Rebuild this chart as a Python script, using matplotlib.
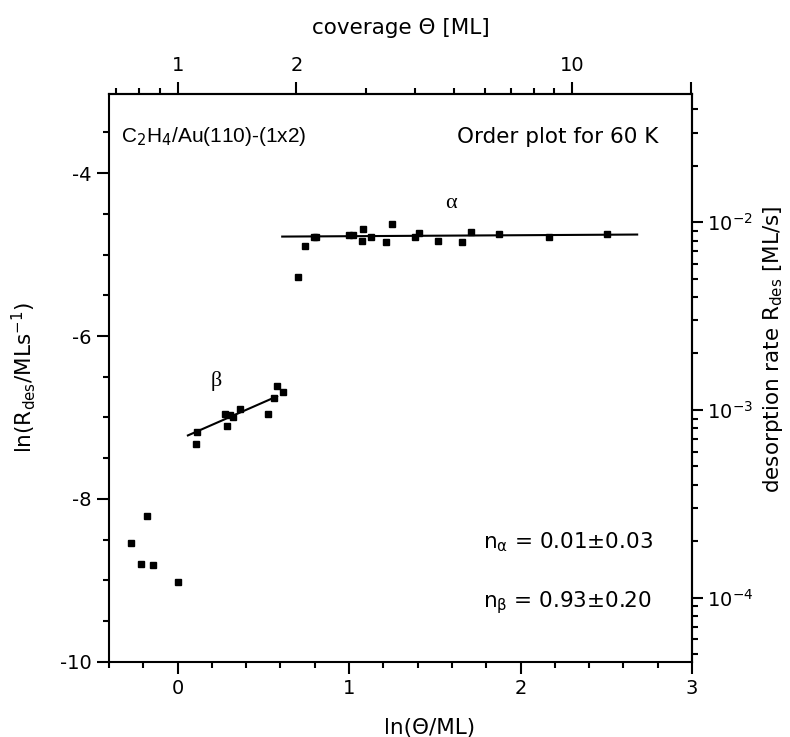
import numpy as np
import matplotlib
matplotlib.use("Agg")
import matplotlib.pyplot as plt
from matplotlib.ticker import FixedLocator, MultipleLocator, NullFormatter

plt.rcParams['font.family'] = ['DejaVu Sans']
plt.rcParams['mathtext.fontset'] = 'custom'
plt.rcParams['mathtext.rm'] = 'DejaVu Sans'
plt.rcParams['mathtext.it'] = 'DejaVu Sans'
plt.rcParams['mathtext.bf'] = 'DejaVu Sans'
plt.rcParams['axes.unicode_minus'] = False

# alpha state data: ln(theta), ln(R)
alpha_x = [0.704, 0.742, 0.795, 0.805, 1.001, 1.022, 1.083, 1.075, 1.127, 1.216,
           1.249, 1.382, 1.405, 1.516, 1.658, 1.712, 1.872, 2.165, 2.503]
alpha_y = [-5.27, -4.89, -4.79, -4.79, -4.76, -4.76, -4.69, -4.83, -4.78, -4.85,
           -4.63, -4.79, -4.74, -4.83, -4.85, -4.72, -4.75, -4.78, -4.75]
# beta state data
beta_x = [0.111, 0.105, 0.276, 0.286, 0.305, 0.322, 0.364, 0.527, 0.564, 0.581, 0.614]
beta_y = [-7.18, -7.33, -6.96, -7.10, -6.97, -6.99, -6.89, -6.96, -6.76, -6.61, -6.69]
# low coverage data
low_x = [-0.179, -0.270, -0.212, -0.146, 0.004]
low_y = [-8.21, -8.54, -8.80, -8.81, -9.02]

# fit lines
alpha_fit_x = [0.61, 2.68]
alpha_fit_y = [-4.78, -4.755]
beta_fit_x = [0.06, 0.58]
beta_fit_y = [-7.22, -6.74]

top_major = [1, 2, 10, 20]
top_labels = ['1', '2', '10', '']
top_minor = [0.7, 0.8, 0.9, 3, 4, 5, 6, 7, 8, 9]
right_major = [1e-2, 1e-3, 1e-4]
right_labels = ['$10^{-2}$', '$10^{-3}$', '$10^{-4}$']
right_minor = [m * 10.0**e for e in (-5, -4, -3, -2) for m in range(2, 10)]

fig = plt.figure(figsize=(7.90, 7.37), dpi=100)
ax = fig.add_axes([0.138, 0.1018, 0.738, 0.7707])

ax.plot(alpha_x, alpha_y, 's', color='black', ms=5)
ax.plot(beta_x, beta_y, 's', color='black', ms=5)
ax.plot(low_x, low_y, 's', color='black', ms=5)
ax.plot(alpha_fit_x, alpha_fit_y, '-', color='black', lw=1.5)
ax.plot(beta_fit_x, beta_fit_y, '-', color='black', lw=1.5)

ax.set_xlim(-0.4, 3.0)
ax.set_ylim(-10, -3.03)
ax.xaxis.set_major_locator(MultipleLocator(1))
ax.xaxis.set_minor_locator(MultipleLocator(0.2))
ax.yaxis.set_major_locator(MultipleLocator(2))
ax.yaxis.set_minor_locator(MultipleLocator(0.5))

TS = 14
for s in ax.spines.values():
    s.set_linewidth(1.5)
ax.tick_params(which='major', direction='out', length=8.5, width=1.5, labelsize=TS, pad=4)
ax.tick_params(which='minor', direction='out', length=4.5, width=1.5)

ax.set_xlabel('ln(\u0398/ML)', fontsize=15.5)
ax.xaxis.set_label_coords(0.55, -0.098)
ax.set_ylabel('ln(R$_{des}$/MLs$^{-1}$)', fontsize=15.5)
ax.yaxis.set_label_coords(-0.122, 0.5)

sec_x = ax.secondary_xaxis('top', functions=(np.exp, np.log))
sec_x.xaxis.set_major_locator(FixedLocator(top_major))
sec_x.set_xticklabels(top_labels)
sec_x.xaxis.set_minor_locator(FixedLocator(top_minor))
sec_x.xaxis.set_minor_formatter(NullFormatter())
sec_x.tick_params(which='major', direction='out', length=8.5, width=1.5, labelsize=TS, pad=5)
sec_x.tick_params(which='minor', direction='out', length=4.5, width=1.5)
sec_x.spines['top'].set_linewidth(1.5)
sec_x.set_xlabel('coverage \u0398 [ML]', fontsize=15.5, labelpad=16)

sec_y = ax.secondary_yaxis('right', functions=(np.exp, np.log))
sec_y.yaxis.set_major_locator(FixedLocator(right_major))
sec_y.set_yticklabels(right_labels)
sec_y.yaxis.set_minor_locator(FixedLocator(right_minor))
sec_y.yaxis.set_minor_formatter(NullFormatter())
sec_y.tick_params(which='major', direction='out', length=8, width=1.5, labelsize=TS, pad=3)
sec_y.tick_params(which='minor', direction='out', length=4.5, width=1.5)
sec_y.spines['right'].set_linewidth(1.5)
sec_y.set_ylabel('desorption rate R$_{des}$ [ML/s]', fontsize=15.5)
sec_y.yaxis.set_label_coords(1.118, 0.55, transform=ax.transAxes)

ax.text(0.02, 0.925, 'C$_2$H$_4$/Au(110)-(1x2)', transform=ax.transAxes,
        fontsize=15, ha='left', va='center', family='Liberation Sans',
        math_fontfamily='dejavusans')
ax.text(0.942, 0.925, 'Order plot for 60 K', transform=ax.transAxes,
        fontsize=15.5, ha='right', va='center')
ax.text(1.596, -4.37, '\u03b1', fontsize=16, family='Liberation Serif',
        ha='center', va='center')
ax.text(0.227, -6.55, '\u03b2', fontsize=16, family='Liberation Serif',
        ha='center', va='center')
ax.text(0.641, 0.211, 'n$_{\\alpha}$ = 0.01\u00b10.03', transform=ax.transAxes,
        fontsize=15.5, ha='left', va='center')
ax.text(0.641, 0.104, 'n$_{\\beta}$ = 0.93\u00b10.20', transform=ax.transAxes,
        fontsize=15.5, ha='left', va='center')

fig.savefig('out.png', dpi=100)
